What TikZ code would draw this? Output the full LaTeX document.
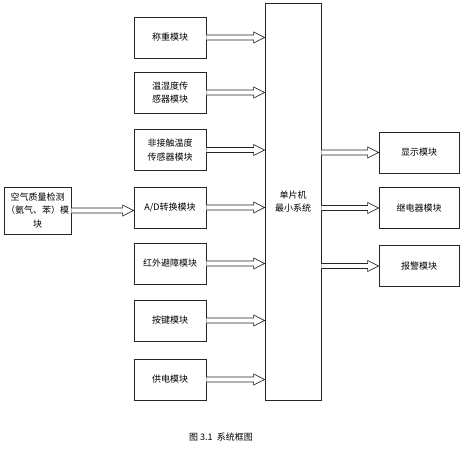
\documentclass[tikz,border=0pt]{standalone}
\usepackage{fontspec}
\setmainfont{Noto Sans CJK SC}
\usetikzlibrary{calc}

% hollow block arrow between two points
\newcommand{\hollowarrow}[2]{%
  \draw[hollow] let \p1=#1, \p2=#2 in
    (\x1,\y1+2.5pt) -- (\x2-11pt,\y1+2.5pt) -- (\x2-11pt,\y1+5.5pt) -- (\x2,\y1)
    -- (\x2-11pt,\y1-5.5pt) -- (\x2-11pt,\y1-2.5pt) -- (\x1,\y1-2.5pt);}

\begin{document}
\begin{tikzpicture}[x=1pt,y=-1pt,
  box/.style={draw=black!85,line width=0.8pt,minimum width=72pt,minimum height=41pt,
    align=center,inner sep=2pt,font=\fontsize{9}{13.5}\selectfont},
  hollow/.style={draw=black!85,line width=0.7pt,fill=white}]

\useasboundingbox (0,0) rectangle (468,452);

% Central unit
\node[box,minimum width=56pt,minimum height=397pt] (mcu) at (293,201.5) {单片机\\最小系统};

% Input modules
\foreach \name/\y/\txt in {m1/37.5/称重模块, m2/92.5/{温湿度传\\感器模块},
    m3/150/{非接触温度\\传感器模块}, m4/207.5/{A/D转换模块}, m5/263.5/红外避障模块,
    m6/320.5/按键模块, m7/379.5/供电模块}
  \node[box] (\name) at (170,\y) {\txt};

\foreach \name in {m1,m2,m3,m4,m5,m6,m7}
  \hollowarrow{(\name.east)}{(mcu.west |- \name.east)};

% Output modules
\foreach \name/\y/\txt in {r1/152.5/显示模块, r2/208/继电器模块, r3/266/报警模块}
  \node[box,minimum width=80pt] (\name) at (419,\y) {\txt};

\foreach \name in {r1,r2,r3}
  \hollowarrow{(mcu.east |- \name.west)}{(\name.west)};

% Sensor feeding the converter
\node[box,minimum width=67pt,minimum height=47pt] (src) at (37.5,210.5) {空气质量检测\\（氨气、苯）模\\块};
\hollowarrow{(src.east)}{(m4.west |- src.east)};

% Caption
\node[font=\fontsize{9}{11}\selectfont] (cap) at (221,437) {图 3.1\ \ 系统框图};

\end{tikzpicture}
\end{document}
